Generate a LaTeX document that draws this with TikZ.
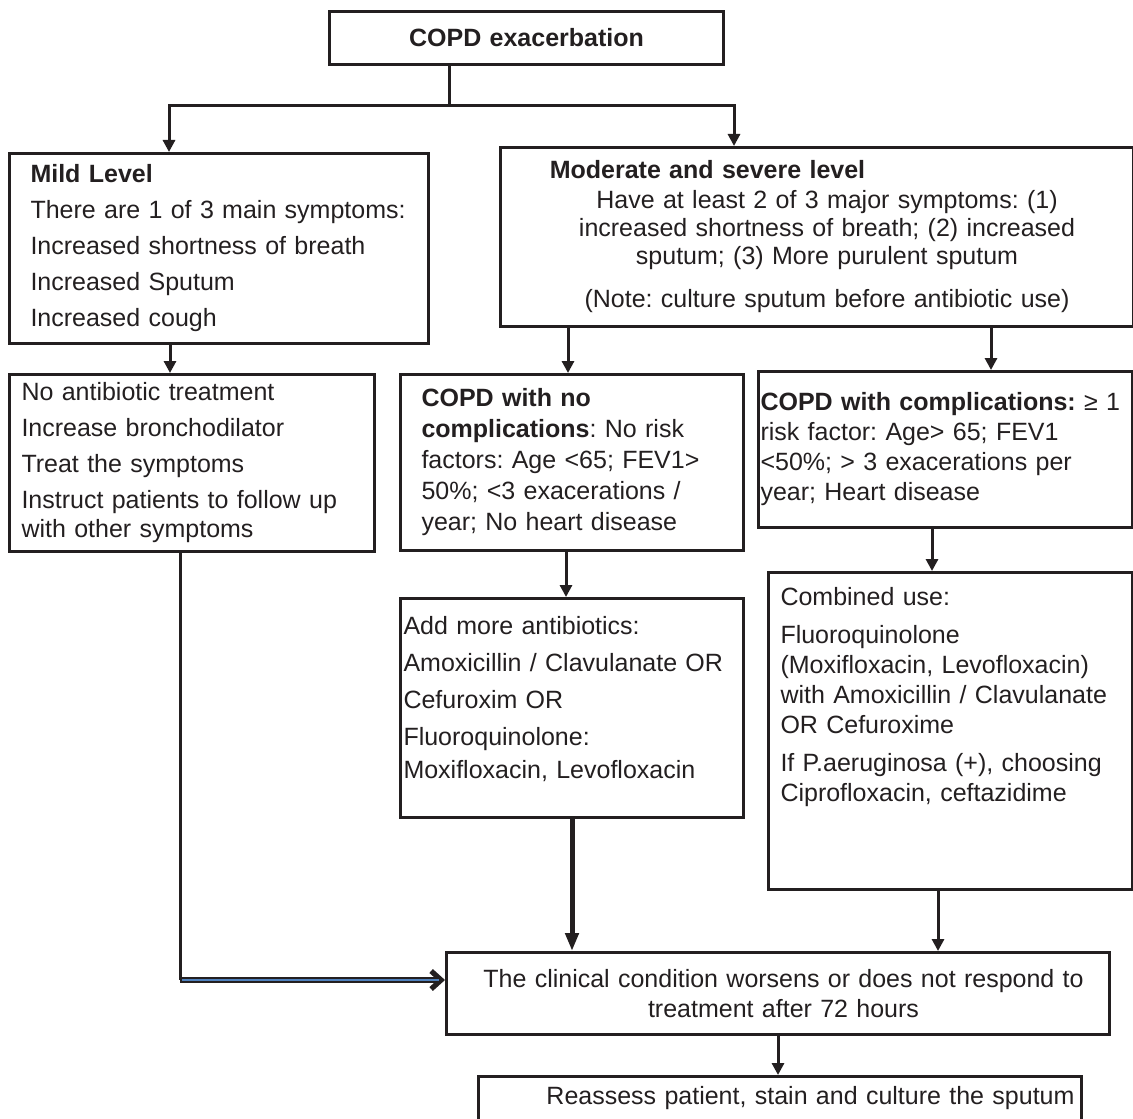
\documentclass[tikz,border=0pt]{standalone}
\usepackage{fontspec}
\setmainfont{Liberation Sans}
\usetikzlibrary{arrows.meta}
\definecolor{ink}{HTML}{231F20}
\definecolor{linkblue}{HTML}{4F81BD}
\tikzset{
block/.style={
	  draw=ink, text=ink, line width=1.5pt, anchor=north west, align=left,
	    inner ysep=0pt, font=\fontsize{12.5}{15}\selectfont},
flow/.style={draw=ink, line width=1.5pt, -{Triangle[length=6pt,width=6pt]}}
}
\frenchspacing

\begin{document}
\begin{tikzpicture}[x=0.5pt, y=-0.5pt, dblflow/.style={draw=ink,
	line width=2.6pt, -{Straight Barb[length=5pt,width=9pt]}}]
	\useasboundingbox (0,0) rectangle (1133,1118);
	\clip (0,0) rectangle (1133,1118);
	\node[block, align=center, text width=187pt, inner xsep=5pt, minimum height=26.5pt] (copd) at (328,10) {\textbf{COPD exacerbation}};
	\node[block, text width=188.5pt, inner xsep=10.5pt, minimum height=95pt] (mild) at (8,152)
		{\textbf{Mild Level}\\[3pt] There are 1 of 3 main symptoms:\\[3pt] Increased shortness of breath\\[3pt] Increased Sputum\\[3pt] Increased cough};
	\node[block, align=center, text width=296.5pt, inner xsep=10pt, minimum height=89.5pt,
		font=\fontsize{12.5}{14}\selectfont] (severe) at (499,146)
		{\hspace*{-109.5pt}\textbf{Moderate and severe level}\\[1pt]
		\hspace*{10pt}Have at least 2 of 3 major symptoms: (1)\\
		\hspace*{10pt}increased shortness of breath; (2) increased\\
		\hspace*{10pt}sputum; (3) More purulent sputum\\[7.5pt]
		\hspace*{10pt}(Note: culture sputum before antibiotic use)};
	\node[block, text width=170.5pt, inner xsep=6pt, minimum height=88.5pt,
		font=\fontsize{12.5}{14.5}\selectfont] (noabx) at (8,373)
		{No antibiotic treatment\\[3.5pt] Increase bronchodilator\\[3.5pt] Treat the symptoms\\[3.5pt] Instruct patients to follow up\\ with other symptoms};
	\node[block, text width=150.5pt, inner xsep=10.5pt, minimum height=88pt,
		font=\fontsize{12.5}{15.5}\selectfont] (simple) at (399,373)
		{\textbf{COPD with no}\\ \textbf{complications}: No risk\\ factors: Age <65; FEV1>\\ 50\%; <3 exacerations /\\ year; No heart disease};
	\node[block, text width=185pt, inner xsep=1pt, minimum height=78pt] (complex) at (757,370)
		{\textbf{COPD with complications:} ≥ 1\\ risk factor: Age> 65; FEV1\\ <50\%; > 3 exacerations per\\ year; Heart disease};
	\node[block, text width=168.5pt, inner xsep=1.5pt, minimum height=109.5pt] (addabx) at (399,597)
		{Add more antibiotics:\\[3.5pt] Amoxicillin / Clavulanate OR\\[3.5pt] Cefuroxim OR\\[3.5pt] Fluoroquinolone:\\[1.5pt] Moxifloxacin, Levofloxacin\\[-4pt]\mbox{}};
	\node[block, text width=170pt, inner xsep=6pt, minimum height=158.5pt] (combo) at (767,571)
		{Combined use:\\[4pt] Fluoroquinolone\\ (Moxifloxacin, Levofloxacin)\\ with Amoxicillin / Clavulanate\\ OR Cefuroxime\\[4pt] If P.aeruginosa (+), choosing\\ Ciprofloxacin, ceftazidime\\[21.5pt]\mbox{}};
	\node[block, align=center, text width=311.5pt, inner xsep=10pt, minimum height=41pt] (worse) at (445,951)
		{\hspace*{5.5pt}The clinical condition worsens or does not respond to\\ \hspace*{5.5pt}treatment after 72 hours};
	\node[block, align=right, text width=294.5pt, inner xsep=3.5pt, inner ysep=5pt] (reassess) at (477,1075)
		{Reassess patient, stain and culture the sputum\\[30pt]\mbox{}};
	% connectors
	\coordinate (split) at (449,106);
	\draw[draw=ink, line width=1.5pt] (copd.south -| split) -- (split);
	\draw[flow] (split) -| (mild.north -| 169,0);
	\draw[flow] (split) -| (severe.north -| 734,0);
	\draw[flow] (mild.south -| 170,0) -- (noabx.north -| 170,0);
	\draw[flow] (severe.south -| 568,0) -- (simple.north -| 568,0);
	\draw[flow] (severe.south -| 991,0) -- (complex.north -| 991,0);
	\draw[flow] (simple.south -| 566,0) -- (addabx.north -| 566,0);
	\draw[flow] (complex.south -| 932,0) -- (combo.north -| 932,0);
	\draw[flow, line width=2.5pt, -{Triangle[length=9pt,width=6.5pt]}] (addabx.south -| 572,0) -- (worse.north -| 572,0);
	\draw[flow] (combo.south -| 938,0) -- (worse.north -| 938,0);
	\draw[flow] (worse.south -| 778,0) -- (reassess.north -| 778,0);
	\coordinate (bend) at (180,980);
	\draw[draw=ink, line width=1.5pt] (noabx.south -| bend) -- (bend);
	\draw[dblflow] (bend) -- (worse.west |- bend);
	\draw[linkblue, line width=1pt, shorten <=1pt, shorten >=3pt] (bend) -- (worse.west |- bend);
\end{tikzpicture}
\end{document}
